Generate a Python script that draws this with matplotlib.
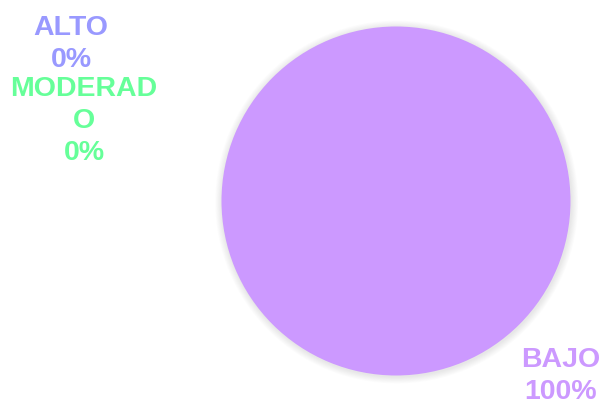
import matplotlib
matplotlib.use("Agg")
import matplotlib.pyplot as plt
from matplotlib.patches import Circle

# Data
categories = ["ALTO", "MODERADO", "BAJO"]
values = [0, 0, 100]
colors = ["#9999FF", "#66FF99", "#CC99FF"]
label_texts = ["ALTO", "MODERAD\nO", "BAJO"]

W, H = 604, 406
fig = plt.figure(figsize=(W / 100, H / 100), dpi=100)
ax = fig.add_axes([0, 0, 1, 1])

# pie centre and radius in pixels
cx, cy, R = 396, 202, 174.5

# soft shadow around the pie
for i in range(8):
    ax.add_patch(Circle((0.004, -0.006), 1.0 + 0.005 * (8 - i),
                        color="#000000", alpha=0.012, lw=0, zorder=1))

ax.pie(values, colors=colors, radius=1.0, startangle=90, counterclock=False,
       wedgeprops=dict(linewidth=0, zorder=2))

ax.set_aspect("auto")
ax.set_xlim(-cx / R, (W - cx) / R)
ax.set_ylim(-(H - cy) / R, cy / R)
ax.axis("off")

total = sum(values)
# label anchor positions in pixels (centre of each text block)
label_pos = [(71, 44), (84, 121), (561, 376)]
for name, txt, v, col, (px, py) in zip(categories, label_texts, values, colors, label_pos):
    ax.text((px - cx) / R, (cy - py) / R, f"{txt}\n{v / total * 100:.0f}%",
            ha="center", va="center", color=col, fontsize=20.5,
            fontweight="bold", family="Liberation Sans", linespacing=1.32,
            zorder=5)

fig.savefig("out.png", dpi=100, facecolor="white")
